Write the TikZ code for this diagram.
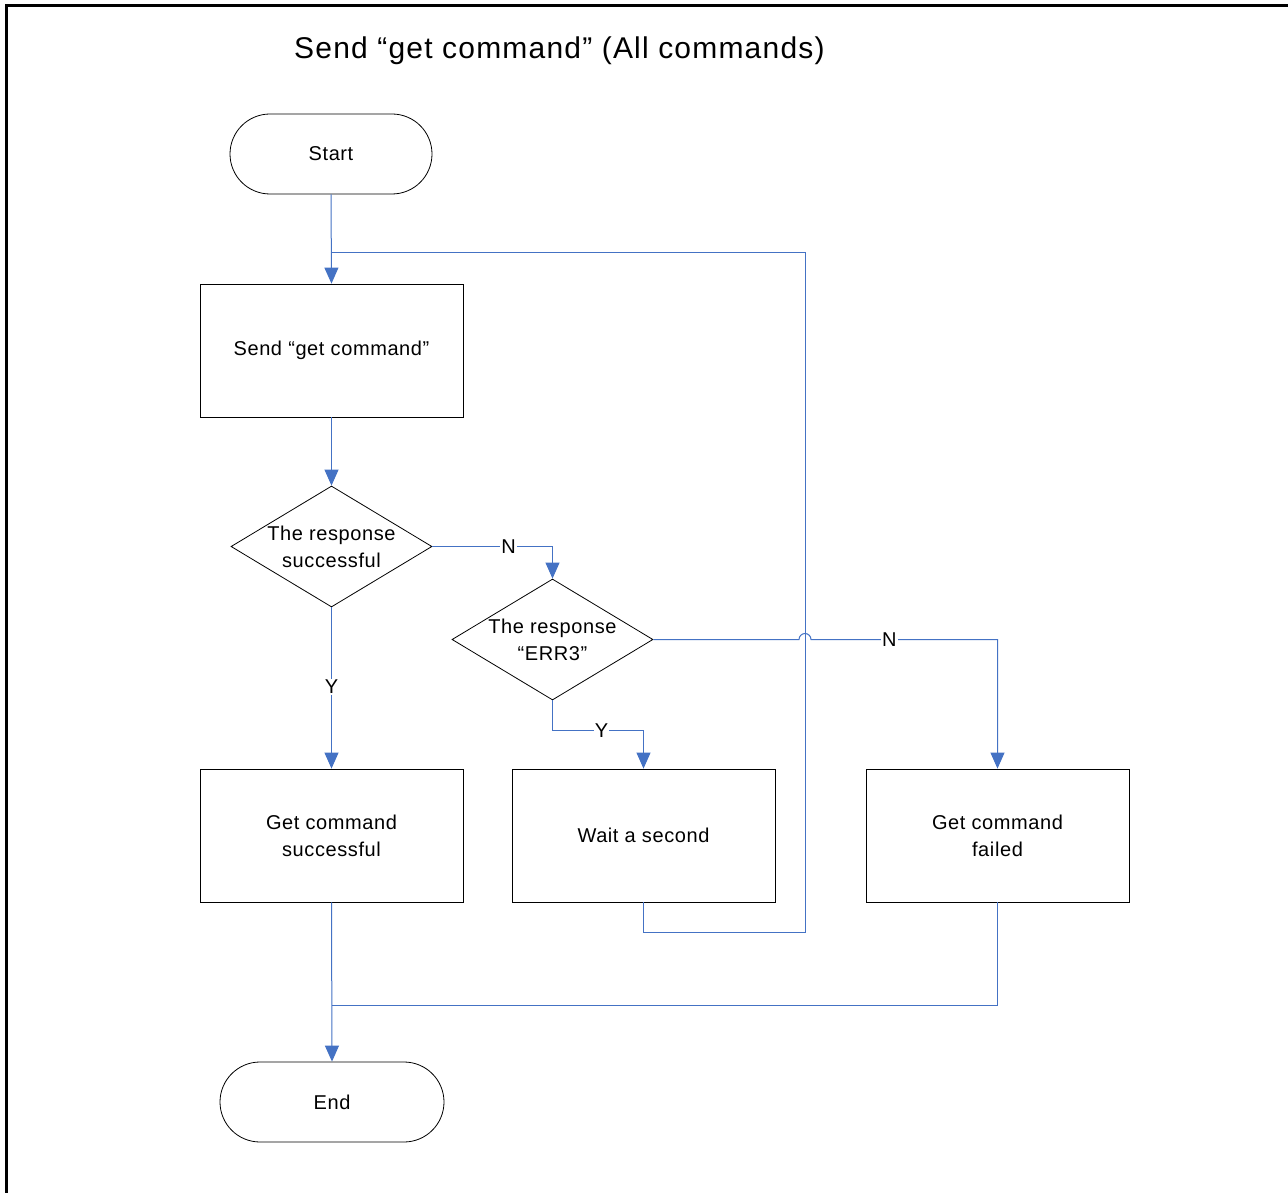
\documentclass[tikz,border=0pt]{standalone}
\usepackage{fontspec}
\setmainfont[LetterSpace=3]{Liberation Sans}
\newfontfamily\titlefont[LetterSpace=4]{Liberation Sans}
\usetikzlibrary{shapes.geometric,arrows.meta,calc}
\definecolor{lineblue}{HTML}{4472C4}
\begin{document}
\begin{tikzpicture}[x=1pt,y=-1pt,
  box/.style={draw=black, line width=0.8pt, minimum width=263pt, minimum height=133pt, align=center, font=\fontsize{20}{27}\selectfont, inner sep=0pt},
  term/.style={draw=black, line width=0.8pt, rounded corners=40pt, minimum height=80pt, font=\fontsize{20}{27}\selectfont, inner sep=0pt},
  dia/.style={draw=black, line width=0.8pt, diamond, minimum width=201pt, minimum height=121pt, inner sep=0pt},
  conn/.style={draw=lineblue, line width=1pt},
  arr/.style={conn, -{Triangle[width=14pt,length=16pt]}},
  lab/.style={fill=white, inner sep=1pt, font=\fontsize{20}{24}\selectfont}
]
\useasboundingbox (0,0) rectangle (1288,1193);
\fill[white] (0,0) rectangle (1288,1193);
\draw[line width=3pt] (6,1193) -- (6,6) -- (1288,6);

\node[font=\titlefont\fontsize{30}{32}\selectfont, anchor=west, inner sep=0pt] (title) at (294,51) {Send “get command” (All commands)};

\node[term, minimum width=202pt] (start) at (331,154) {Start};
\node[box] (send) at (331.5,350.5) {Send “get command”};
\node[dia, label={[align=center, font=\fontsize{20}{27}\selectfont]center:The response\\successful}] (d1) at (331.5,546.5) {};
\node[dia, label={[align=center, font=\fontsize{20}{27}\selectfont]center:The response\\“ERR3”}] (d2) at (552.5,639.5) {};
\node[box] (succ) at (331.5,835.5) {Get command\\successful};
\node[box] (wait) at (643.5,835.5) {Wait a second};
\node[box] (fail) at (997.5,835.5) {Get command\\failed};
\node[term, minimum width=224pt] (stop) at (332,1102) {End};

\coordinate (loopc) at (805,253);
\coordinate (join) at (331.5,1005);

\draw[arr] (start.south) -- (send.north);
\draw[conn] (wait.south) -- ++(0,30) -| (loopc) -- (send.north |- loopc);
\draw[arr] (send.south) -- (d1.north);
\draw[arr] (d1.east) -| node[lab, pos=0.317]{N} (d2.north);
\draw[arr] (d1.south) -- node[lab, pos=0.494]{Y} (succ.north);
\draw[arr] (d2.south) -- ++(0,30) -| node[lab, pos=0.27]{Y} (wait.north);
\draw[arr] (d2.east) -- ([xshift=-6pt]d2.east -| loopc) arc (180:360:6) -- node[lab, pos=0.42]{N} (d2.east -| fail.north) -- (fail.north);
\draw[arr] (succ.south) -- (stop.north);
\draw[conn] (fail.south) |- (join);
\end{tikzpicture}
\end{document}
